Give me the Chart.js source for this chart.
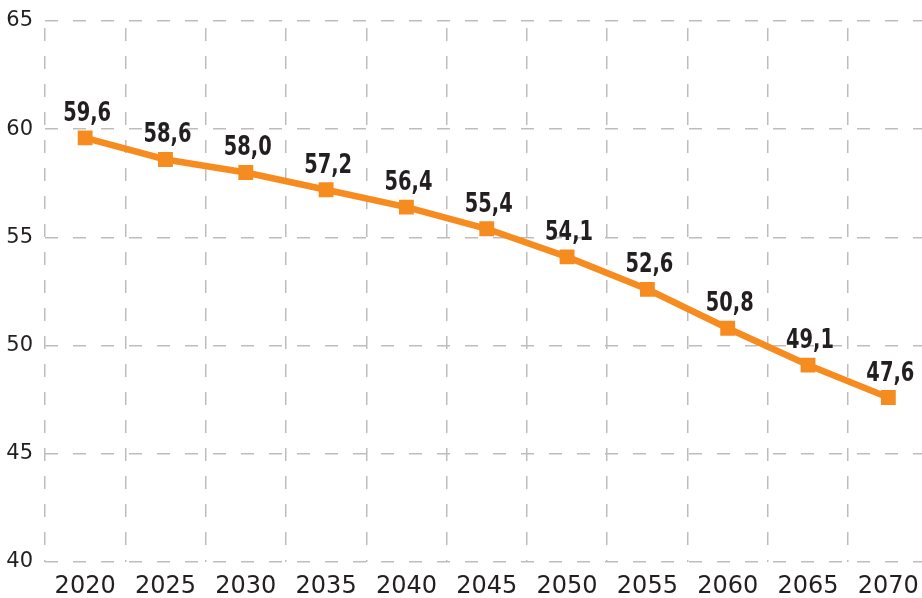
<!DOCTYPE html>
<html>
<head>
<meta charset="utf-8">
<script src="https://cdn.jsdelivr.net/npm/chart.js@4/dist/chart.umd.min.js"></script>
<style>
	html, body { margin: 0; padding: 0; background: #fff; overflow: hidden; }
	canvas { display: block; }
</style>
</head>
<body>
<canvas id="chart" width="939" height="598"></canvas>
<script>
	// Данные графика
	const years = ['2020', '2025', '2030', '2035', '2040', '2045', '2050', '2055', '2060', '2065', '2070'];
	const values = [59.6, 58.6, 58.0, 57.2, 56.4, 55.4, 54.1, 52.6, 50.8, 49.1, 47.6];
	const yTicks = [40, 45, 50, 55, 60, 65];

	const fontFamily = '"DejaVu Sans", sans-serif';
	const orange = '#f68b1f';
	const gridColor = '#bdbdbd';
	const textColor = '#231f20';

	// Подписи значений над точками (сжатый жирный шрифт)
	const valueLabels = {
		id: 'valueLabels',
		afterDatasetsDraw(chart) {
			const ctx = chart.ctx;
			const meta = chart.getDatasetMeta(0);
			const sx = 0.8;
			ctx.save();
			ctx.font = 'condensed bold 27px ' + fontFamily;
			ctx.fillStyle = textColor;
			ctx.textAlign = 'center';
			ctx.textBaseline = 'alphabetic';
			meta.data.forEach((pt, i) => {
				const text = values[i].toFixed(1).replace('.', ',');
				ctx.save();
				ctx.translate(pt.x + 2, pt.y - 17);
				ctx.scale(sx, 1);
				ctx.fillText(text, 0, 0);
				ctx.restore();
			});
			ctx.restore();
		}
	};

	new Chart(document.getElementById('chart'), {
		type: 'line',
		data: {
			labels: years,
			datasets: [{
				data: values,
				borderColor: orange,
				backgroundColor: orange,
				borderWidth: 6.5,
				pointStyle: 'rect',
				pointRadius: 10.5,
				pointHoverRadius: 10.5,
				pointBorderWidth: 0,
				tension: 0
			}]
		},
		options: {
			responsive: false,
			animation: false,
			layout: { padding: { top: 21, right: 0, bottom: 0, left: 0 } },
			plugins: {
				legend: { display: false },
				tooltip: { enabled: false }
			},
			scales: {
				x: {
					offset: true,
					grid: {
						offset: true,
						color: gridColor,
						lineWidth: 1.5,
						drawTicks: false
					},
					border: { display: false, dash: [13, 15], dashOffset: 21 },
					ticks: {
						color: textColor,
						padding: 10,
						font: { family: fontFamily, size: 24, style: 'condensed' }
					},
					afterFit(scale) {
						scale.height = 36;
						scale.paddingLeft = 0;
						scale.paddingRight = 0;
					}
				},
				y: {
					min: 40,
					max: 65,
					afterBuildTicks(scale) {
						scale.ticks = yTicks.map(v => ({ value: v }));
					},
					grid: {
						color: gridColor,
						lineWidth: 1.5,
						drawTicks: false
					},
					border: { display: false, dash: [13, 15] },
					ticks: {
						color: textColor,
						padding: 12,
						font: { family: fontFamily, size: 21, style: 'condensed' }
					},
					afterFit(scale) {
						scale.width = 45;
						scale.paddingTop = 0;
						scale.paddingBottom = 0;
					}
				}
			}
		},
		plugins: [valueLabels]
	});
</script>
</body>
</html>
